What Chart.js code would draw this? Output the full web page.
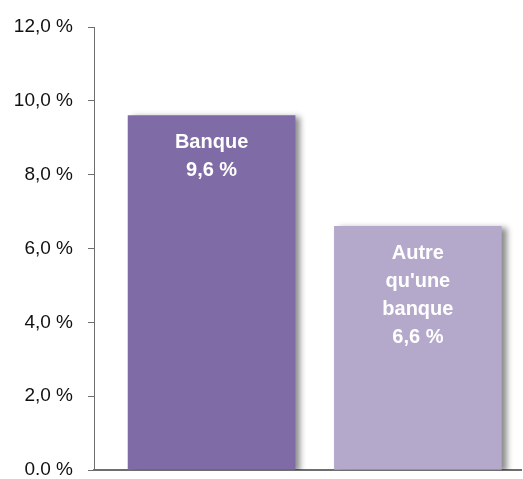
<!DOCTYPE html>
<html>
<head>
<meta charset="utf-8">
<script src="https://cdn.jsdelivr.net/npm/chart.js@4"></script>
<style>
    html, body { margin: 0; padding: 0; background: #fff; }
    #wrap { width: 523px; height: 479px; position: relative; }
</style>
</head>
<body>
<div id="wrap"><canvas id="barChart"></canvas></div>
<script>
// données du graphique
const categories = ['Banque', "Autre qu'une banque"];
const barLines = [['Banque', '9,6 %'], ['Autre', "qu'une", 'banque', '6,6 %']];
const values = [9.6, 6.6];
const barColors = ['#7f6ba5', '#b5a9cb'];
const yTicks = [0, 2, 4, 6, 8, 10, 12];
const yTickLabels = ['0.0 %', '2,0 %', '4,0 %', '6,0 %', '8,0 %', '10,0 %', '12,0 %'];

const FONT = "'Liberation Sans', Arial, sans-serif";

// ombre portée sous les barres
const shadowPlugin = {
    id: 'barShadow',
    beforeDatasetDraw(chart) {
        const ctx = chart.ctx;
        ctx.save();
        ctx.shadowColor = 'rgba(0,0,0,0.45)';
        ctx.shadowBlur = 6;
        ctx.shadowOffsetX = 5;
        ctx.shadowOffsetY = 2;
    },
    afterDatasetDraw(chart) {
        chart.ctx.restore();
    }
};

// étiquettes blanches à l'intérieur des barres
const innerLabels = {
    id: 'innerLabels',
    afterDatasetsDraw(chart) {
        const ctx = chart.ctx;
        const meta = chart.getDatasetMeta(0);
        ctx.save();
        ctx.fillStyle = '#ffffff';
        ctx.font = 'bold 20px ' + FONT;
        ctx.textAlign = 'center';
        ctx.textBaseline = 'middle';
        meta.data.forEach((bar, i) => {
            barLines[i].forEach((line, j) => {
                ctx.fillText(line, bar.x, bar.y + 27 + j * 28);
            });
        });
        ctx.restore();
    }
};

function initChart() {
    const ctx = document.getElementById('barChart').getContext('2d');
    new Chart(ctx, {
        type: 'bar',
        data: {
            datasets: [{
                data: categories.map((c, i) => ({ x: i, y: values[i] })),
                backgroundColor: barColors,
                borderWidth: 0,
                barThickness: 167
            }]
        },
        options: {
            responsive: true,
            maintainAspectRatio: false,
            animation: false,
            layout: { padding: { top: 27, right: 2, left: 0, bottom: 0 } },
            plugins: { legend: { display: false }, tooltip: { enabled: false } },
            scales: {
                x: {
                    type: 'linear',
                    offset: false,
                    min: -0.57,
                    max: 1.5,
                    ticks: { display: false },
                    grid: { display: false },
                    border: { display: true, color: '#6e6e6e', width: 2 },
                    afterFit: (s) => { s.height = 9; }
                },
                y: {
                    min: 0,
                    max: 12,
                    afterBuildTicks: (s) => { s.ticks = yTicks.map(v => ({ value: v })); },
                    ticks: {
                        padding: 15,
                        color: '#111',
                        font: { family: FONT, size: 19 },
                        callback: (v) => yTickLabels[yTicks.indexOf(v)]
                    },
                    grid: { drawOnChartArea: false, drawTicks: true, tickLength: 6, color: '#6e6e6e' },
                    border: { display: true, color: '#6e6e6e', width: 1 },
                    afterFit: (s) => {
                        s.width = 94;
                        s.paddingTop = 0;
                        s.paddingBottom = 0;
                    }
                }
            }
        },
        plugins: [shadowPlugin, innerLabels]
    });
}

window.addEventListener('load', initChart);
</script>
</body>
</html>
